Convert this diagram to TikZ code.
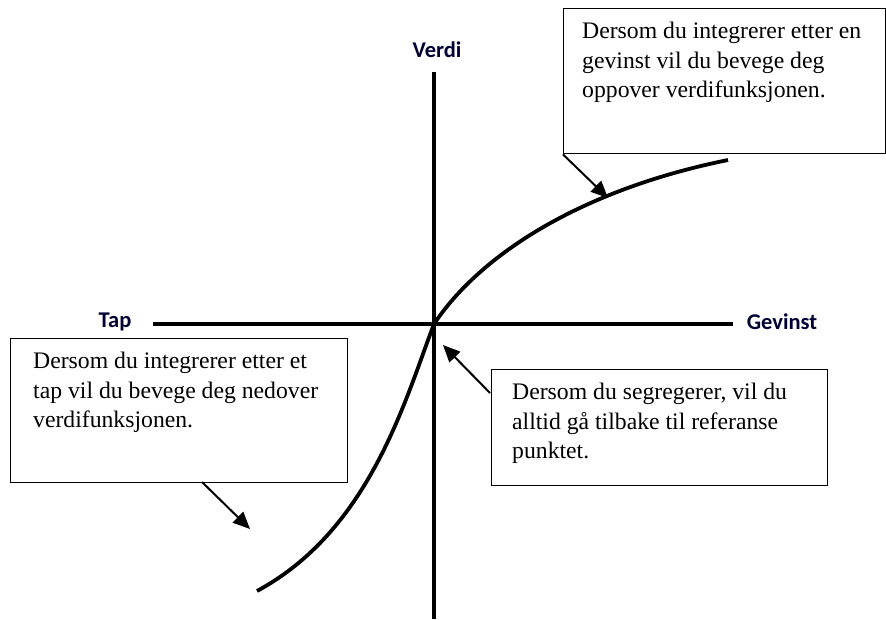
\documentclass[tikz,border=0pt]{standalone}
\usepackage{fontspec}
\setmainfont{Liberation Serif}
\newfontfamily\lblfont{Carlito}
\usetikzlibrary{arrows.meta}
\begin{document}
\begin{tikzpicture}[x=1pt,y=-1pt,
  axis/.style={line width=3.5pt},
  curve/.style={line width=3.8pt},
  box/.style={draw,line width=1.4pt,rectangle,inner sep=0pt,anchor=north west},
  boxtext/.style={anchor=north west,inner sep=0pt,align=left,font=\fontsize{23.7}{29.5}\selectfont},
  lbl/.style={font=\lblfont\bfseries\fontsize{22.5}{26}\selectfont,text=black!80!blue,inner sep=0pt},
  arr/.style={line width=2pt,-{Triangle[length=17pt,width=15pt]}}]
\useasboundingbox (0,0) rectangle (886,619);
% axes
\coordinate (vtop) at (434,72);
\coordinate (vbot) at (434,619);
\coordinate (hl) at (153,324);
\coordinate (hr) at (733,324);
\coordinate (o) at (434,324);
\draw[axis] (vtop) -- (vbot);
\draw[axis] (hl) -- (hr);
\node[lbl] (verdi) at (437,50) {Verdi};
\node[lbl] (tap) at (115,322) {Tap};
\node[lbl] (gevinst) at (782,322) {Gevinst};
% value function
\coordinate (ue) at (728,160);
\coordinate (le) at (257,591);
\draw[curve] (le) .. controls (370,530) and (405,400) .. (o)
  .. controls (480,255) and (580,190) .. (ue);
% boxes
\node[box,minimum width=322pt,minimum height=145pt] (ubox) at (563,8) {};
\node[boxtext] (utext) at (582,22) {Dersom du integrerer etter en\\gevinst vil du bevege deg\\oppover verdifunksjonen.};
\node[box,minimum width=337pt,minimum height=144pt] (lbox) at (10,338) {};
\node[boxtext] (ltext) at (33,352) {Dersom du integrerer etter et\\tap vil du bevege deg nedover\\verdifunksjonen.};
\node[box,minimum width=336pt,minimum height=116pt] (rbox) at (491,369) {};
\node[boxtext] (rtext) at (512,383) {Dersom du segregerer, vil du\\alltid gå tilbake til referanse\\punktet.};
% arrows
\coordinate (utip) at (608,198);
\coordinate (ltip) at (250,529);
\coordinate (rtip) at (443,345);
\coordinate (lstart) at (202,482);
\coordinate (rstart) at (490,393);
\draw[arr] (ubox.south west) -- (utip);
\draw[arr] (lstart) -- (ltip);
\draw[arr] (rstart) -- (rtip);
\end{tikzpicture}
\end{document}
